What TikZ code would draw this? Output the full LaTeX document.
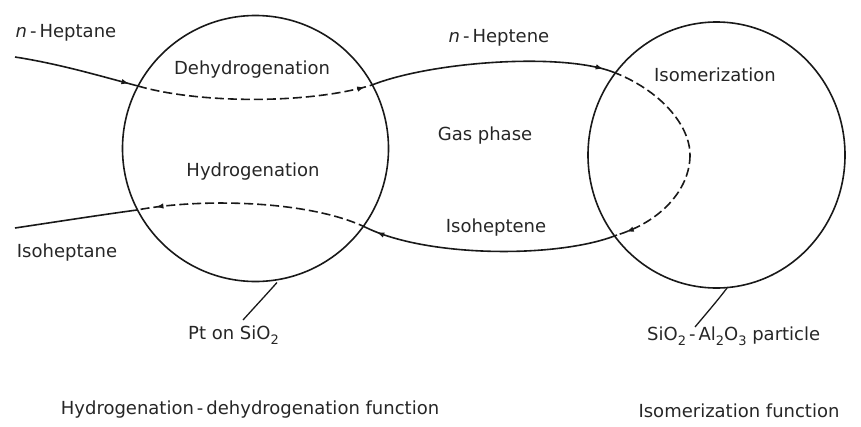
\documentclass[tikz,border=0pt]{standalone}
\usepackage{fontspec}
\setmainfont{DejaVu Sans}
\usetikzlibrary{arrows.meta,decorations.markings,shapes.geometric}
\newcommand{\subsc}[1]{\raisebox{-0.55ex}{\fontsize{13}{13}\selectfont #1}}
\tikzset{
  lbl/.style={inner sep=0pt, text=black!85, font=\fontsize{18}{20}\selectfont},
  flow/.style={line width=1.6pt, black!90},
  dashflow/.style={flow, dash pattern=on 9pt off 4pt},
  arrowat/.style={postaction={decorate,decoration={markings,
     mark=at position #1 with {\arrow{Latex[length=8pt,width=5.5pt]}}}}},
  particle/.style={draw=black!90, line width=1.6pt, inner sep=0pt},
  leader/.style={line width=1.3pt, black!90}
}
\begin{document}
\begin{tikzpicture}[x=1pt,y=-1pt]
\useasboundingbox (0,0) rectangle (861,426);
% particles
\node[particle, circle, minimum size=266pt] (L) at (255.5,148.5) {};
\node[particle, ellipse, minimum width=257pt, minimum height=266pt] (R) at (716.5,155) {};
% path points
\coordinate (a0) at (15,57);
\coordinate (a1) at (138,86);
\coordinate (a2) at (372,85);
\coordinate (a3) at (613,72);
\coordinate (a4m) at (690,155);
\coordinate (a4) at (617,235);
\coordinate (a5) at (367,228);
\coordinate (a6) at (137,210);
\coordinate (a7) at (15,228);
% flows
\draw[flow, arrowat=0.93] (a0) .. controls (60,64) and (100,76) .. (a1);
\draw[dashflow, arrowat=0.97] (a1) .. controls (200,104) and (310,104) .. (a2);
\draw[flow, arrowat=0.96] (a2) .. controls (430,62) and (560,52) .. (a3);
\draw[dashflow] (a3) .. controls (660,90) and (690,125) .. (a4m);
\draw[dashflow, arrowat=0.92] (a4m) .. controls (690,190) and (660,222) .. (a4);
\draw[flow, arrowat=0.96] (a4) .. controls (560,258) and (430,258) .. (a5);
\draw[dashflow, arrowat=0.92] (a5) .. controls (310,200) and (200,198) .. (a6);
\draw[flow] (a6) .. controls (100,215) and (55,222) .. (a7);
% labels
\node[lbl] (nhep) at (66,33) {\textit{n}\,-\,Heptane};
\node[lbl] (dehyd) at (252,70) {Dehydrogenation};
\node[lbl] (hyd) at (253,172) {Hydrogenation};
\node[lbl] (nhepe) at (499,38) {\textit{n}\,-\,Heptene};
\node[lbl] (isom) at (715,75) {Isomerization};
\node[lbl] (gas) at (485,136) {Gas phase};
\node[lbl] (isohe) at (496,228) {Isoheptene};
\node[lbl] (isoha) at (67,253) {Isoheptane};
\node[lbl, anchor=west] (pt) at (188,335) {Pt on SiO\subsc{2}};
\node[lbl, anchor=west] (sial) at (647,336) {SiO\subsc{2}\,-\,Al\subsc{2}O\subsc{3} particle};
\node[lbl] (hdf) at (250,410) {Hydrogenation\,-\,dehydrogenation function};
\node[lbl] (isf) at (739,411) {Isomerization function};
% leaders
\coordinate (lp) at (277,282.5);
\coordinate (rp) at (727,288);
\draw[leader] (lp) .. controls (265,296) and (252,310) .. (243,320);
\draw[leader] (rp) .. controls (718,300) and (705,315) .. (695,327);
\end{tikzpicture}
\end{document}
